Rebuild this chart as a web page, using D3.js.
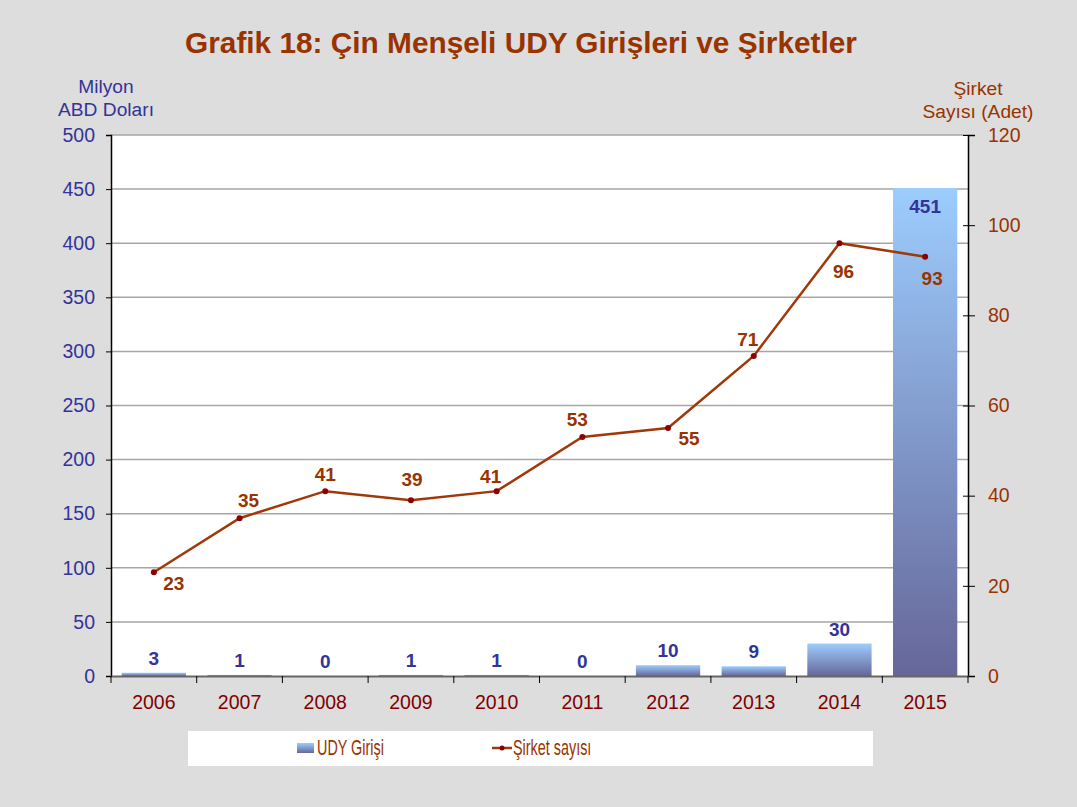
<!DOCTYPE html>
<html><head><meta charset="utf-8">
<script src="https://cdn.jsdelivr.net/npm/d3@7"></script>
<style>body{margin:0;background:#dddddd;}svg{display:block;font-family:"Liberation Sans",Arial,sans-serif;}</style>
</head><body>
<svg id="c" width="1077" height="807"></svg>
<script>
const years = ["2006","2007","2008","2009","2010","2011","2012","2013","2014","2015"];
const udyValues = [3,1,0,1,1,0,10,9,30,451];
const sirketValues = [23,35,41,39,41,53,55,71,96,93];
const leftTicks = [0,50,100,150,200,250,300,350,400,450,500];
const rightTicks = [0,20,40,60,80,100,120];

const svg = d3.select("#c");
const W = 1077, H = 807;
const m = {l:111, r:968, t:135, b:676};
svg.append("rect").attr("width",W).attr("height",H).attr("fill","#dddddd");

const defs = svg.append("defs");
const g = defs.append("linearGradient").attr("id","bg").attr("x1",0).attr("y1",0).attr("x2",0).attr("y2",1);
g.append("stop").attr("offset","0%").attr("stop-color","#9ccdfd");
g.append("stop").attr("offset","100%").attr("stop-color","#666699");

const x = d3.scaleBand().domain(years).range([m.l,m.r]).paddingInner(0.25).paddingOuter(0.125);
const yL = d3.scaleLinear().domain([0,500]).range([m.b,m.t]);
const yR = d3.scaleLinear().domain([0,120]).range([m.b,m.t]);

svg.append("rect").attr("x",m.l).attr("y",m.t).attr("width",m.r-m.l).attr("height",m.b-m.t).attr("fill","#ffffff");

// gridlines
svg.append("g").selectAll("line").data(leftTicks.filter(d=>d>0)).join("line")
  .attr("x1",m.l).attr("x2",m.r).attr("y1",d=>yL(d)).attr("y2",d=>yL(d))
  .attr("stroke","#a6a6a6").attr("stroke-width",1.5);

// bars
svg.append("g").selectAll("rect").data(years.map((y,i)=>({y,v:udyValues[i]}))).join("rect")
  .attr("x",d=>x(d.y)).attr("width",x.bandwidth())
  .attr("y",d=>yL(d.v)).attr("height",d=>Math.max(0,m.b-yL(d.v)))
  .attr("fill","url(#bg)");

const FS = 19.5;
// axes
const axL = svg.append("g").attr("transform",`translate(${m.l},0)`)
  .call(d3.axisLeft(yL).tickValues(leftTicks).tickSize(5).tickPadding(11));
const axR = svg.append("g").attr("transform",`translate(${m.r},0)`)
  .call(d3.axisRight(yR).tickValues(rightTicks).tickSize(7).tickPadding(13));
const axB = svg.append("g").attr("transform",`translate(0,${m.b})`)
  .call(d3.axisBottom(x).tickSize(0).tickPadding(19));
[axL,axR,axB].forEach(a=>{a.select(".domain").attr("stroke","#000").attr("stroke-width",1.5);a.selectAll(".tick line").attr("stroke","#000");a.selectAll("text").attr("font-size",FS).attr("font-family","Liberation Sans, Arial, sans-serif");});
axR.selectAll(".tick line").attr("x1",-5);
axB.select(".domain").attr("stroke","#666").attr("stroke-width",2);
axL.selectAll("text").attr("fill","#333399");
axR.selectAll("text").attr("fill","#993300");
axB.selectAll("text").attr("fill","#800000");
// category boundary ticks
const step = x.step();
svg.append("g").selectAll("line").data(d3.range(years.length+1)).join("line")
  .attr("x1",i=>m.l+i*step).attr("x2",i=>m.l+i*step).attr("y1",m.b).attr("y2",m.b+7)
  .attr("stroke","#000").attr("stroke-width",1);

// line
const cx = d=>x(d)+x.bandwidth()/2;
const pts = years.map((y,i)=>({y,v:sirketValues[i]}));
svg.append("path").datum(pts)
  .attr("d",d3.line().x(d=>cx(d.y)).y(d=>yR(d.v)))
  .attr("fill","none").attr("stroke","#a0380a").attr("stroke-width",2.5);
svg.append("g").selectAll("circle").data(pts).join("circle")
  .attr("cx",d=>cx(d.y)).attr("cy",d=>yR(d.v)).attr("r",3).attr("fill","#8b0000");

// line labels
const off = {"2006":[20,18],"2007":[9,-11],"2008":[0,-10],"2009":[1,-14],"2010":[-6,-8],
  "2011":[-5,-11],"2012":[21,17],"2013":[-6,-10],"2014":[4,35],"2015":[7,28]};
svg.append("g").selectAll("text").data(pts).join("text")
  .attr("x",d=>cx(d.y)+off[d.y][0]).attr("y",d=>yR(d.v)+off[d.y][1])
  .attr("text-anchor","middle").attr("font-size",19).attr("font-weight","bold")
  .attr("fill","#993300").text(d=>d.v);

// bar labels
svg.append("g").selectAll("text").data(years.map((y,i)=>({y,v:udyValues[i]}))).join("text")
  .attr("x",d=>cx(d.y)).attr("y",d=>d.v>100?yL(d.v)+25:yL(d.v)-8)
  .attr("text-anchor","middle").attr("font-size",19).attr("font-weight","bold")
  .attr("fill","#333399").text(d=>d.v);

// title
svg.append("text").attr("x",521).attr("y",53).attr("text-anchor","middle")
  .attr("font-size",29.8).attr("font-weight","bold").attr("fill","#993300")
  .text("Grafik 18: Çin Menşeli UDY Girişleri ve Şirketler");

// axis titles
const lt = svg.append("text").attr("text-anchor","middle").attr("font-size",19.2).attr("fill","#333399");
lt.append("tspan").attr("x",106).attr("y",93).text("Milyon");
lt.append("tspan").attr("x",106).attr("y",116).text("ABD Doları");
const rt = svg.append("text").attr("text-anchor","middle").attr("font-size",19.2).attr("fill","#993300");
rt.append("tspan").attr("x",978).attr("y",95).text("Şirket");
rt.append("tspan").attr("x",978).attr("y",118).text("Sayısı (Adet)");

// legend
svg.append("rect").attr("x",188).attr("y",731).attr("width",685).attr("height",35).attr("fill","#ffffff");
svg.append("rect").attr("x",297).attr("y",743).attr("width",17).attr("height",10).attr("fill","url(#bg)");
svg.append("text").attr("transform","translate(317,755) scale(0.8,1.25)").attr("font-size",18).attr("fill","#993300").text("UDY Girişi");
svg.append("line").attr("x1",492).attr("x2",512).attr("y1",748).attr("y2",748).attr("stroke","#a0380a").attr("stroke-width",2.5);
svg.append("circle").attr("cx",502).attr("cy",748).attr("r",2.5).attr("fill","#8b0000");
svg.append("text").attr("transform","translate(513,755) scale(0.8,1.25)").attr("font-size",18).attr("fill","#993300").text("Şirket sayısı");
</script>
</body></html>
